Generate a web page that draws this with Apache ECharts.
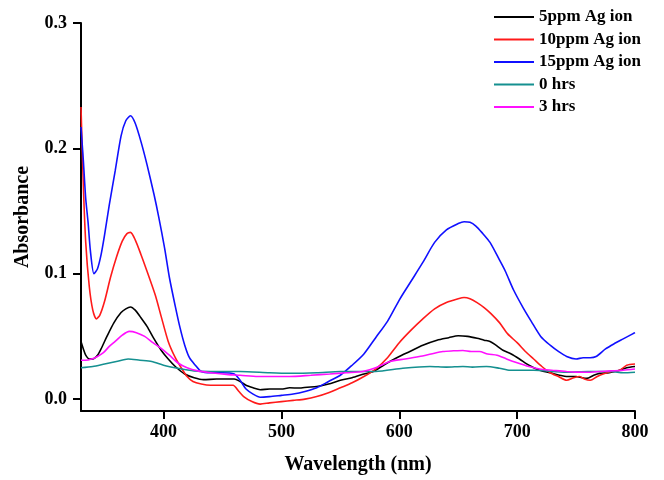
<!DOCTYPE html>
<html>
<head>
<meta charset="utf-8">
<script src="https://cdn.jsdelivr.net/npm/echarts@6/dist/echarts.min.js"></script>
<style>
  html, body { margin: 0; padding: 0; background: #fff; }
  #chart { width: 664px; height: 480px; }
</style>
</head>
<body>
<div id="chart"></div>
<script>
// UV-Vis absorbance spectra (wavelength in nm, absorbance in a.u.)
const wl5ppm = [330,332,334,337,340,344,347,352,358,364,368,372,376,380,386,392,398,404,410,418,426,434,445,455,460,465,470,476,482,490,500,507,515,522,530,540,550,560,570,578,585,592,600,609,620,632,642,650,658,666,672,677,682,688,695,702,710,719,728,736,743,750,755,759,765,770,778,787,793,800];
const abs5ppm = [0.046,0.040,0.035,0.032,0.032,0.035,0.040,0.050,0.061,0.069,0.072,0.0735,0.071,0.066,0.058,0.048,0.039,0.032,0.026,0.020,0.017,0.0155,0.016,0.016,0.016,0.014,0.011,0.009,0.0075,0.008,0.008,0.009,0.0088,0.0095,0.010,0.012,0.015,0.017,0.020,0.022,0.026,0.030,0.034,0.038,0.043,0.047,0.049,0.0505,0.050,0.0485,0.047,0.046,0.043,0.039,0.036,0.032,0.027,0.023,0.021,0.019,0.018,0.018,0.017,0.0165,0.019,0.0205,0.021,0.023,0.025,0.026];

const wl10ppm = [330,332,334,337,340,343,346,350,355,360,365,369,372,376,381,386,393,398,404,410,415,420,425,432,440,450,459,464,468,475,482,490,500,510,520,530,540,550,560,570,580,590,600,610,620,630,640,650,655,660,666,672,678,685,692,700,707,714,721,728,735,742,748,753,757,762,768,773,780,787,793,800];
const abs10ppm = [0.233,0.170,0.125,0.090,0.071,0.064,0.067,0.078,0.097,0.113,0.126,0.132,0.133,0.127,0.115,0.102,0.083,0.066,0.046,0.033,0.025,0.018,0.014,0.012,0.011,0.011,0.011,0.006,0.002,-0.002,-0.004,-0.003,-0.002,-0.001,0.000,0.002,0.005,0.009,0.013,0.018,0.024,0.033,0.045,0.055,0.064,0.072,0.077,0.080,0.081,0.080,0.077,0.073,0.068,0.061,0.052,0.045,0.038,0.032,0.026,0.021,0.018,0.015,0.017,0.018,0.016,0.015,0.018,0.020,0.022,0.023,0.027,0.028];

const wl15ppm = [330,332,334,336,338,341,344,347,350,354,359,364,368,372,376,381,386,392,396,401,405,410,414,418,422,427,432,440,450,460,465,470,476,482,490,500,510,520,530,540,550,560,570,580,590,600,610,620,630,640,650,655,660,665,670,677,685,690,697,705,712,720,728,735,742,750,756,762,767,775,782,790,798,800];
const abs15ppm = [0.217,0.190,0.160,0.141,0.118,0.100,0.104,0.115,0.131,0.155,0.182,0.210,0.222,0.226,0.220,0.205,0.187,0.163,0.145,0.120,0.097,0.074,0.057,0.043,0.033,0.027,0.022,0.021,0.021,0.020,0.015,0.008,0.004,0.0015,0.002,0.003,0.004,0.006,0.009,0.014,0.019,0.027,0.036,0.049,0.062,0.079,0.094,0.109,0.125,0.135,0.140,0.1415,0.141,0.138,0.133,0.125,0.111,0.102,0.087,0.073,0.062,0.050,0.043,0.038,0.034,0.032,0.033,0.033,0.034,0.040,0.044,0.048,0.052,0.053];

const wl0hrs = [330,340,350,360,370,380,390,400,412,426,440,465,490,507,530,550,580,603,626,640,654,662,674,685,694,714,742,760,780,790,800];
const abs0hrs = [0.025,0.026,0.028,0.030,0.032,0.031,0.030,0.027,0.0246,0.0225,0.022,0.022,0.021,0.0206,0.021,0.022,0.022,0.0246,0.026,0.0255,0.026,0.0255,0.026,0.0246,0.023,0.023,0.0214,0.022,0.022,0.021,0.0214];

const wl3hrs = [330,334,339,344,349,354,359,365,371,377,384,391,398,405,412,420,429,440,455,465,480,507,525,541,555,569,580,592,605,617,627,637,646,654,661,668,675,683,691,700,710,719,730,742,750,759,770,779,790,800];
const abs3hrs = [0.031,0.031,0.032,0.034,0.037,0.042,0.046,0.051,0.054,0.053,0.050,0.045,0.0405,0.035,0.029,0.025,0.0225,0.021,0.0195,0.019,0.018,0.018,0.019,0.020,0.021,0.022,0.025,0.030,0.032,0.034,0.036,0.038,0.0385,0.0388,0.038,0.038,0.036,0.035,0.032,0.029,0.026,0.024,0.023,0.022,0.0215,0.0214,0.022,0.0225,0.023,0.024];

const seriesNames = ['5ppm Ag ion', '10ppm Ag ion', '15ppm Ag ion', '0 hrs', '3 hrs'];
const seriesColors = ['#000000', '#ff1a1a', '#1010ff', '#159090', '#ff10ff'];
const xTicks = [400, 500, 600, 700, 800];
const yTicks = [0, 0.1, 0.2, 0.3];

const xs = [wl5ppm, wl10ppm, wl15ppm, wl0hrs, wl3hrs];
const ys = [abs5ppm, abs10ppm, abs15ppm, abs0hrs, abs3hrs];

const FONT = 'Liberation Serif';

const chart = echarts.init(document.getElementById('chart'), null, { renderer: 'canvas' });

const series = seriesNames.map((name, i) => ({
  name: name,
  type: 'line',
  showSymbol: false,
  symbol: 'none',
  smooth: 0.25,
  color: seriesColors[i],
  lineStyle: { color: seriesColors[i], width: 1.6 },
  data: xs[i].map((x, k) => [x, ys[i][k]]),
  z: 3
}));

const axisCommon = {
  axisLine: { show: true, onZero: false, lineStyle: { color: '#000', width: 2 } },
  axisTick: { show: true, inside: false, length: 8, lineStyle: { color: '#000', width: 2 } },
  splitLine: { show: false },
  axisLabel: {
    color: '#000', fontFamily: FONT, fontWeight: 'bold', fontSize: 18
  },
  nameTextStyle: { color: '#000', fontFamily: FONT, fontWeight: 'bold', fontSize: 20 }
};

chart.setOption({
  animation: false,
  backgroundColor: '#fff',
  grid: { left: 81, right: 29, top: 23, bottom: 68, containLabel: false },
  legend: {
    orient: 'vertical',
    left: 494,
    top: 6,
    padding: 0,
    itemWidth: 40,
    itemHeight: 2,
    itemGap: 0.5,
    icon: 'rect',
    data: seriesNames,
    textStyle: {
      color: '#000', fontFamily: FONT, fontWeight: 'bold', fontSize: 17, lineHeight: 22
    }
  },
  xAxis: Object.assign({}, axisCommon, {
    type: 'value',
    min: 330,
    max: 800,
    name: 'Wavelength (nm)',
    nameLocation: 'middle',
    nameGap: 44,
    axisTick: Object.assign({}, axisCommon.axisTick, { customValues: xTicks }),
    axisLabel: Object.assign({}, axisCommon.axisLabel, { customValues: xTicks, margin: 12 })
  }),
  yAxis: Object.assign({}, axisCommon, {
    type: 'value',
    min: -0.0095,
    max: 0.3,
    name: 'Absorbance',
    nameLocation: 'middle',
    nameGap: 48,
    nameRotate: 90,
    axisTick: Object.assign({}, axisCommon.axisTick, { customValues: yTicks }),
    axisLabel: Object.assign({}, axisCommon.axisLabel, {
      customValues: yTicks,
      margin: 14,
      formatter: v => v.toFixed(1)
    })
  }),
  series: series
});
</script>
</body>
</html>
